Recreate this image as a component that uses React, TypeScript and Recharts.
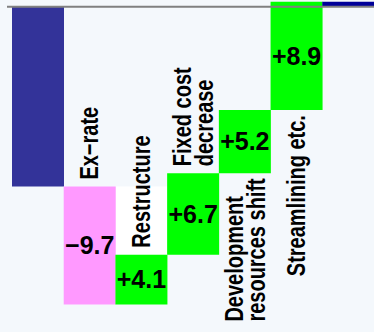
import { Bar, BarChart, Cell, LabelList, ReferenceArea, ReferenceLine, XAxis, YAxis } from 'recharts';

// waterfall: last year's result, the change items, this year's result
const startName = 'Last year';
const startValue = -14.8;
const changeNames = ['Ex−rate', 'Restructure', 'Fixed cost\ndecrease', 'Development\nresources shift', 'Streamlining etc.'];
const changeValues = [-9.7, 4.1, 6.7, 5.2, 8.9];
const changeLabelSide = ['above', 'above', 'above', 'below', 'below'];
const endName = 'This year';

const COLORS = { start: '#333399', end: '#000099', up: '#00ff00', down: '#ff99ff' };
const FONT = '"Liberation Sans", Arial, sans-serif';
const LABEL_SIZE = 25;
const LABEL_SQUEEZE = 0.8;
const LINE_H = 22;

type Row = { name: string; range: [number, number]; text: string; side: string; fill: string };

function buildRows(): Row[] {
  const out: Row[] = [{ name: startName, range: [startValue, 0], text: '', side: '', fill: COLORS.start }];
  let level = startValue;
  changeValues.forEach((v, i) => {
    const next = level + v;
    out.push({
      name: changeNames[i],
      range: [Math.min(level, next), Math.max(level, next)],
      text: (v > 0 ? '+' : '−') + Math.abs(v).toFixed(1),
      side: changeLabelSide[i],
      fill: v < 0 ? COLORS.down : COLORS.up,
    });
    level = next;
  });
  out.push({ name: endName, range: [0, level], text: '', side: '', fill: COLORS.end });
  return out;
}

const rows = buildRows();

let ctx: CanvasRenderingContext2D | null = null;
function textWidth(s: string) {
  if (!ctx) ctx = document.createElement('canvas').getContext('2d');
  if (!ctx) return s.length * LABEL_SIZE * 0.55;
  ctx.font = `bold ${LABEL_SIZE}px ${FONT}`;
  return ctx.measureText(s).width;
}

function CategoryLabel(props: any) {
  const { x, y, width, height, index } = props;
  const row = rows[index];
  if (!row || !row.side) return null;
  const top = Math.min(y, y + height);
  const bottom = Math.max(y, y + height);
  const cx = x + width / 2;
  const lines = row.name.split('\n');
  let anchorY = top - 7;
  if (row.side === 'below') {
    const longest = Math.max(...lines.map(textWidth));
    anchorY = bottom + 5 + longest * LABEL_SQUEEZE;
  }
  return (
    <text
      transform={`translate(${cx},${anchorY}) rotate(-90) scale(${LABEL_SQUEEZE},1)`}
      fontSize={LABEL_SIZE}
      fontWeight="bold"
      fontFamily={FONT}
      fill="#000"
      textAnchor="start"
    >
      {lines.map((l, i) => (
        <tspan key={i} x={0} y={(i - (lines.length - 1) / 2) * LINE_H + LABEL_SIZE * 0.35}>
          {l}
        </tspan>
      ))}
    </text>
  );
}

export default function App() {
  return (
    <div style={{ position: 'absolute', left: 0, top: 0, width: 374, height: 332, background: '#f4f8fc' }}>
      <BarChart width={374} height={332} data={rows} margin={{ top: 0, right: 0, bottom: 2, left: 7 }} barCategoryGap={0}>
        <XAxis dataKey="name" hide padding={{ left: 5, right: 0 }} />
        <YAxis hide domain={[-26.6, 0.55]} allowDataOverflow />
        <ReferenceLine y={0} stroke="#808080" strokeWidth={2} />
        {/* white box behind the Restructure label */}
        <ReferenceArea
          x1={rows[2].name}
          x2={rows[2].name}
          y1={rows[1].range[1]}
          y2={rows[2].range[1]}
          fill="#ffffff"
          fillOpacity={1}
          stroke="none"
        />
        <Bar dataKey="range" isAnimationActive={false}>
          {rows.map((r) => (
            <Cell key={r.name} fill={r.fill} />
          ))}
          <LabelList dataKey="text" position="center" fill="#000" fontSize={25} fontWeight="bold" fontFamily={FONT} />
          <LabelList dataKey="name" content={CategoryLabel} />
        </Bar>
      </BarChart>
    </div>
  );
}
